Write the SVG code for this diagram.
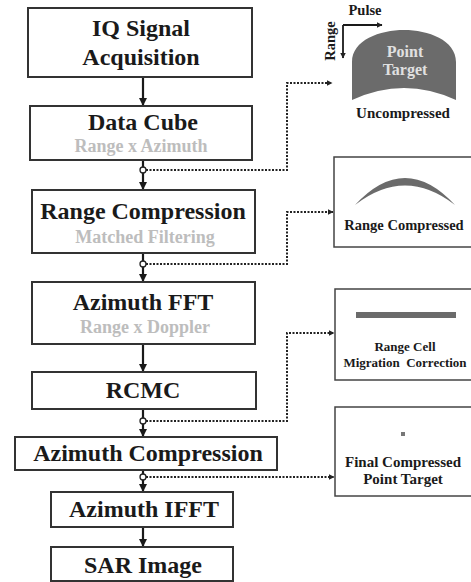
<svg xmlns="http://www.w3.org/2000/svg" width="471" height="582" viewBox="0 0 471 582">
<style>
.box{fill:#fff;stroke:#333;stroke-width:2}
.rbox{fill:#fff;stroke:#444;stroke-width:1.5}
.t{font-family:"Liberation Serif","Times New Roman",serif;font-weight:bold;text-anchor:middle;fill:#1a1a1a}
.main{font-size:24px}
.sub{font-size:18px;fill:#bdbdbd}
.sm{font-size:14.5px}
.flow{stroke:#1a1a1a;stroke-width:2.2;fill:none}
.dot{stroke:#222;stroke-width:2;fill:none;stroke-dasharray:2 1.5}
.tap{fill:#fff;stroke:#222;stroke-width:1.3}
.shape{fill:#6b6b6b}
</style>
<defs>
<marker id="ah" markerWidth="8" markerHeight="8" refX="7" refY="4" orient="auto" markerUnits="userSpaceOnUse">
<path d="M0,0 L8,4 L0,8 Z" fill="#1a1a1a"/>
</marker>
<marker id="ahs" markerWidth="6" markerHeight="6" refX="5.5" refY="3" orient="auto" markerUnits="userSpaceOnUse">
<path d="M0,0 L6,3 L0,6 Z" fill="#222"/>
</marker>
</defs>
<rect width="471" height="582" fill="#fff"/>

<g id="connectors">
<path class="flow" d="M143,77 V105" marker-end="url(#ah)"/>
<path class="flow" d="M143,160 V189" marker-end="url(#ah)"/>
<path class="flow" d="M143,253 V281" marker-end="url(#ah)"/>
<path class="flow" d="M143,344 V371" marker-end="url(#ah)"/>
<path class="flow" d="M143,409 V436" marker-end="url(#ah)"/>
<path class="flow" d="M143,470 V491" marker-end="url(#ah)"/>
<path class="flow" d="M143,527 V546" marker-end="url(#ah)"/>
<path class="dot" d="M146,170 H287 V83 H332" marker-end="url(#ahs)"/>
<path class="dot" d="M146,264 H287 V212 H333" marker-end="url(#ahs)"/>
<path class="dot" d="M146,421 H287 V333 H334" marker-end="url(#ahs)"/>
<path class="dot" d="M146,477 H334" marker-end="url(#ahs)"/>
<circle class="tap" cx="143" cy="170" r="3"/>
<circle class="tap" cx="143" cy="264" r="3"/>
<circle class="tap" cx="143" cy="421" r="3"/>
<circle class="tap" cx="143" cy="477" r="3"/>
</g>

<g id="iq">
<rect class="box" x="28" y="8" width="224" height="69"/>
<text class="t main" x="141" y="36">IQ Signal</text>
<text class="t main" x="141" y="65">Acquisition</text>
</g>
<g id="datacube">
<rect class="box" x="30" y="106" width="222" height="54"/>
<text class="t main" x="143" y="130">Data Cube</text>
<text class="t sub" x="141" y="152">Range x Azimuth</text>
</g>
<g id="rangecomp">
<rect class="box" x="32" y="190" width="223" height="63"/>
<text class="t main" x="143" y="219">Range Compression</text>
<text class="t sub" x="145" y="243">Matched Filtering</text>
</g>
<g id="azfft">
<rect class="box" x="32" y="282" width="223" height="62"/>
<text class="t main" x="143" y="310">Azimuth FFT</text>
<text class="t sub" x="145" y="333">Range x Doppler</text>
</g>
<g id="rcmc">
<rect class="box" x="32" y="372" width="224" height="37"/>
<text class="t main" x="143" y="398">RCMC</text>
</g>
<g id="azcomp">
<rect class="box" x="15" y="437" width="262" height="33"/>
<text class="t main" x="148" y="461">Azimuth Compression</text>
</g>
<g id="azifft">
<rect class="box" x="51" y="492" width="182" height="35"/>
<text class="t main" x="144" y="517">Azimuth IFFT</text>
</g>
<g id="sar">
<rect class="box" x="51" y="547" width="182" height="34"/>
<text class="t main" x="143" y="573">SAR Image</text>
</g>

<g id="uncompressed">
<text class="t sm" x="365" y="15">Pulse</text>
<path class="flow" style="stroke-width:1.8" d="M343,25 H382" marker-end="url(#ahs)"/>
<path class="flow" style="stroke-width:1.8" d="M343,25 V58" marker-end="url(#ahs)"/>
<text class="t sm" transform="translate(335,41) rotate(-90)" x="0" y="0">Range</text>
<path class="shape" d="M352,100 L352,62 C352,40 380,30 404,30 C428,30 456,40 456,62 L456,100 Q404,76 352,100 Z"/>
<text class="t" style="font-size:16px;fill:#e0e0e0" x="405" y="57">Point</text>
<text class="t" style="font-size:16px;fill:#e0e0e0" x="405" y="75">Target</text>
<text class="t" style="font-size:15px" x="403" y="118">Uncompressed</text>
</g>
<g id="rangecompressed">
<rect class="rbox" x="334" y="157" width="145" height="90"/>
<path class="shape" d="M355,205 Q405,151 455,205 Q405,166 355,205 Z"/>
<text class="t sm" x="404" y="230">Range Compressed</text>
</g>
<g id="rcmcview">
<rect class="rbox" x="335" y="289" width="145" height="91"/>
<rect class="shape" x="356" y="312" width="100" height="6"/>
<text class="t" style="font-size:13px" x="405" y="351">Range Cell</text>
<text class="t" style="font-size:13px" x="405" y="367" xml:space="preserve">Migration  Correction</text>
</g>
<g id="final">
<rect class="rbox" x="335" y="407" width="145" height="89"/>
<rect x="401" y="432" width="4" height="4" fill="#777"/>
<text class="t" style="font-size:15px" x="403" y="467">Final Compressed</text>
<text class="t" style="font-size:15px" x="403" y="484">Point Target</text>
</g>
</svg>
